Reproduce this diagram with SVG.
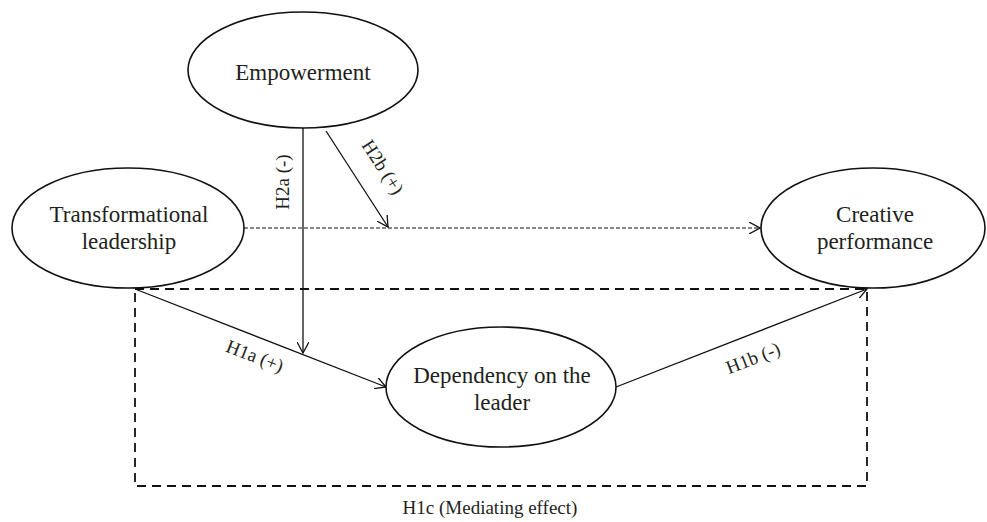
<svg xmlns="http://www.w3.org/2000/svg" width="987" height="522" viewBox="0 0 987 522">
<style>
  .node ellipse { fill: #fff; stroke: #111; stroke-width: 1.6; }
  .nt { font-family: "Liberation Serif", "Times New Roman", serif; font-size: 23px; fill: #231f20; text-anchor: middle; }
  .lbl { font-family: "Liberation Serif", "Times New Roman", serif; font-size: 19px; fill: #231f20; text-anchor: middle; }
  .solid { fill: none; stroke: #111; stroke-width: 1.3; }
  .fine { fill: none; stroke: #111; stroke-width: 1.1; stroke-dasharray: 4 2; }
  .box { fill: none; stroke: #111; stroke-width: 1.8; stroke-dasharray: 9 6; }
</style>
<defs>
  <marker id="arr" viewBox="0 0 12 12" refX="11" refY="6" markerWidth="12" markerHeight="12" markerUnits="userSpaceOnUse" orient="auto">
    <path d="M0,0 L11,6 L0,12" fill="none" stroke="#111" stroke-width="1.3"/>
  </marker>
</defs>
<rect width="987" height="522" fill="#fff"/>

<g id="connectors">
  <rect class="box" x="135" y="289" width="732" height="197"/>
  <line class="fine" x1="244" y1="228" x2="760" y2="228" marker-end="url(#arr)"/>
  <line class="solid" x1="303" y1="128" x2="303" y2="353" marker-end="url(#arr)"/>
  <line class="solid" x1="326" y1="131" x2="388" y2="227" marker-end="url(#arr)"/>
  <line class="solid" x1="135" y1="289" x2="386" y2="387" marker-end="url(#arr)"/>
  <line class="solid" x1="616" y1="387" x2="867" y2="289" marker-end="url(#arr)"/>
  <text class="lbl" transform="translate(289,182) rotate(-90)">H2a (-)</text>
  <text class="lbl" transform="translate(377.5,170.5) rotate(57)">H2b (+)</text>
  <text class="lbl" transform="translate(252.6,362) rotate(21.3)">H1a (+)</text>
  <text class="lbl" transform="translate(755.4,364) rotate(-21.3)">H1b (-)</text>
  <text class="lbl" x="490" y="514">H1c (Mediating effect)</text>
</g>

<g id="empowerment" class="node">
  <ellipse cx="303" cy="70" rx="115" ry="58"/>
  <text class="nt" x="303" y="80">Empowerment</text>
</g>

<g id="transformational" class="node">
  <ellipse cx="128" cy="228" rx="116" ry="60"/>
  <text class="nt" x="129" y="222">Transformational</text>
  <text class="nt" x="129" y="249">leadership</text>
</g>

<g id="creative" class="node">
  <ellipse cx="873" cy="228" rx="112" ry="60"/>
  <text class="nt" x="875" y="222">Creative</text>
  <text class="nt" x="875" y="249">performance</text>
</g>

<g id="dependency" class="node">
  <ellipse cx="501" cy="387" rx="115" ry="60"/>
  <text class="nt" x="502" y="383">Dependency on the</text>
  <text class="nt" x="502" y="410">leader</text>
</g>
</svg>
